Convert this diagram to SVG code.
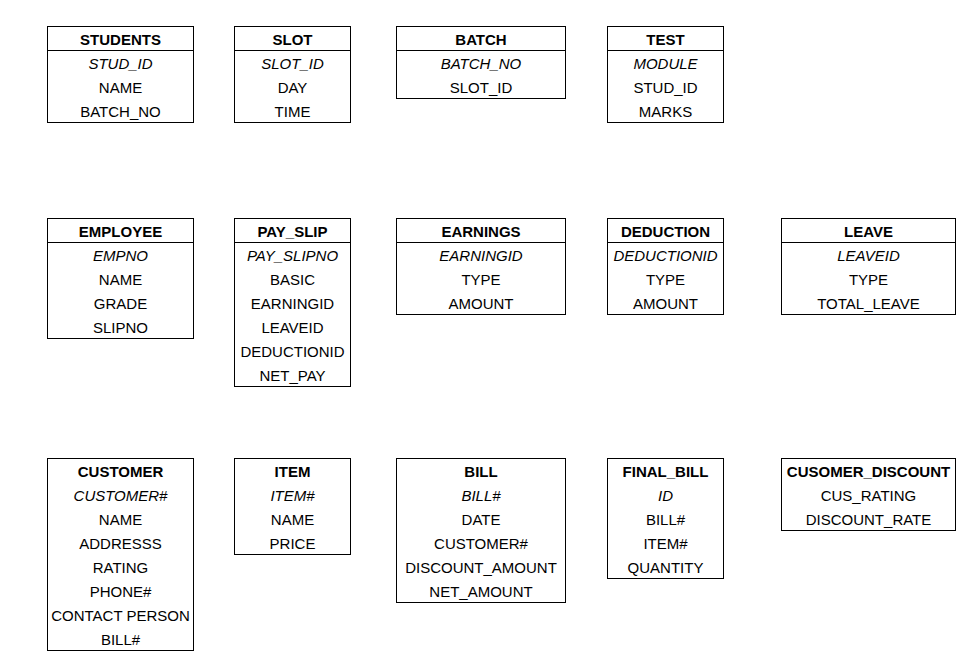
<svg xmlns="http://www.w3.org/2000/svg" width="976" height="664" viewBox="0 0 976 664">
<style>
rect.box{fill:#fff;stroke:#000;stroke-width:1}
line.sep{stroke:#000;stroke-width:1}
text{font-family:"Liberation Sans",Arial,sans-serif;font-size:15px;fill:#000;text-anchor:middle}
text.h{font-weight:bold}
text.k{font-style:italic}
</style>
<rect width="976" height="664" fill="#fff"/>
<g id="students">
<rect class="box" x="47.5" y="26.5" width="146" height="96"/>
<line class="sep" x1="47.5" y1="50.5" x2="193.5" y2="50.5"/>
<text class="h" x="120.5" y="45">STUDENTS</text>
<text class="k" x="120.5" y="69">STUD_ID</text>
<text x="120.5" y="93">NAME</text>
<text x="120.5" y="117">BATCH_NO</text>
</g>
<g id="slot">
<rect class="box" x="234.5" y="26.5" width="116" height="96"/>
<line class="sep" x1="234.5" y1="50.5" x2="350.5" y2="50.5"/>
<text class="h" x="292.5" y="45">SLOT</text>
<text class="k" x="292.5" y="69">SLOT_ID</text>
<text x="292.5" y="93">DAY</text>
<text x="292.5" y="117">TIME</text>
</g>
<g id="batch">
<rect class="box" x="396.5" y="26.5" width="169" height="72"/>
<line class="sep" x1="396.5" y1="50.5" x2="565.5" y2="50.5"/>
<text class="h" x="481" y="45">BATCH</text>
<text class="k" x="481" y="69">BATCH_NO</text>
<text x="481" y="93">SLOT_ID</text>
</g>
<g id="test">
<rect class="box" x="607.5" y="26.5" width="116" height="96"/>
<line class="sep" x1="607.5" y1="50.5" x2="723.5" y2="50.5"/>
<text class="h" x="665.5" y="45">TEST</text>
<text class="k" x="665.5" y="69">MODULE</text>
<text x="665.5" y="93">STUD_ID</text>
<text x="665.5" y="117">MARKS</text>
</g>
<g id="employee">
<rect class="box" x="47.5" y="218.5" width="146" height="120"/>
<line class="sep" x1="47.5" y1="242.5" x2="193.5" y2="242.5"/>
<text class="h" x="120.5" y="237">EMPLOYEE</text>
<text class="k" x="120.5" y="261">EMPNO</text>
<text x="120.5" y="285">NAME</text>
<text x="120.5" y="309">GRADE</text>
<text x="120.5" y="333">SLIPNO</text>
</g>
<g id="pay_slip">
<rect class="box" x="234.5" y="218.5" width="116" height="168"/>
<line class="sep" x1="234.5" y1="242.5" x2="350.5" y2="242.5"/>
<text class="h" x="292.5" y="237">PAY_SLIP</text>
<text class="k" x="292.5" y="261">PAY_SLIPNO</text>
<text x="292.5" y="285">BASIC</text>
<text x="292.5" y="309">EARNINGID</text>
<text x="292.5" y="333">LEAVEID</text>
<text x="292.5" y="357">DEDUCTIONID</text>
<text x="292.5" y="381">NET_PAY</text>
</g>
<g id="earnings">
<rect class="box" x="396.5" y="218.5" width="169" height="96"/>
<line class="sep" x1="396.5" y1="242.5" x2="565.5" y2="242.5"/>
<text class="h" x="481" y="237">EARNINGS</text>
<text class="k" x="481" y="261">EARNINGID</text>
<text x="481" y="285">TYPE</text>
<text x="481" y="309">AMOUNT</text>
</g>
<g id="deduction">
<rect class="box" x="607.5" y="218.5" width="116" height="96"/>
<line class="sep" x1="607.5" y1="242.5" x2="723.5" y2="242.5"/>
<text class="h" x="665.5" y="237">DEDUCTION</text>
<text class="k" x="665.5" y="261">DEDUCTIONID</text>
<text x="665.5" y="285">TYPE</text>
<text x="665.5" y="309">AMOUNT</text>
</g>
<g id="leave">
<rect class="box" x="781.5" y="218.5" width="174" height="96"/>
<line class="sep" x1="781.5" y1="242.5" x2="955.5" y2="242.5"/>
<text class="h" x="868.5" y="237">LEAVE</text>
<text class="k" x="868.5" y="261">LEAVEID</text>
<text x="868.5" y="285">TYPE</text>
<text x="868.5" y="309">TOTAL_LEAVE</text>
</g>
<g id="customer">
<rect class="box" x="47.5" y="458.5" width="146" height="192"/>
<text class="h" x="120.5" y="477">CUSTOMER</text>
<text class="k" x="120.5" y="501">CUSTOMER#</text>
<text x="120.5" y="525">NAME</text>
<text x="120.5" y="549">ADDRESSS</text>
<text x="120.5" y="573">RATING</text>
<text x="120.5" y="597">PHONE#</text>
<text x="120.5" y="621">CONTACT PERSON</text>
<text x="120.5" y="645">BILL#</text>
</g>
<g id="item">
<rect class="box" x="234.5" y="458.5" width="116" height="96"/>
<text class="h" x="292.5" y="477">ITEM</text>
<text class="k" x="292.5" y="501">ITEM#</text>
<text x="292.5" y="525">NAME</text>
<text x="292.5" y="549">PRICE</text>
</g>
<g id="bill">
<rect class="box" x="396.5" y="458.5" width="169" height="144"/>
<text class="h" x="481" y="477">BILL</text>
<text class="k" x="481" y="501">BILL#</text>
<text x="481" y="525">DATE</text>
<text x="481" y="549">CUSTOMER#</text>
<text x="481" y="573">DISCOUNT_AMOUNT</text>
<text x="481" y="597">NET_AMOUNT</text>
</g>
<g id="final_bill">
<rect class="box" x="607.5" y="458.5" width="116" height="120"/>
<text class="h" x="665.5" y="477">FINAL_BILL</text>
<text class="k" x="665.5" y="501">ID</text>
<text x="665.5" y="525">BILL#</text>
<text x="665.5" y="549">ITEM#</text>
<text x="665.5" y="573">QUANTITY</text>
</g>
<g id="cusomer_discount">
<rect class="box" x="781.5" y="458.5" width="174" height="72"/>
<text class="h" x="868.5" y="477">CUSOMER_DISCOUNT</text>
<text x="868.5" y="501">CUS_RATING</text>
<text x="868.5" y="525">DISCOUNT_RATE</text>
</g>
<g id="connectors"></g>
</svg>
